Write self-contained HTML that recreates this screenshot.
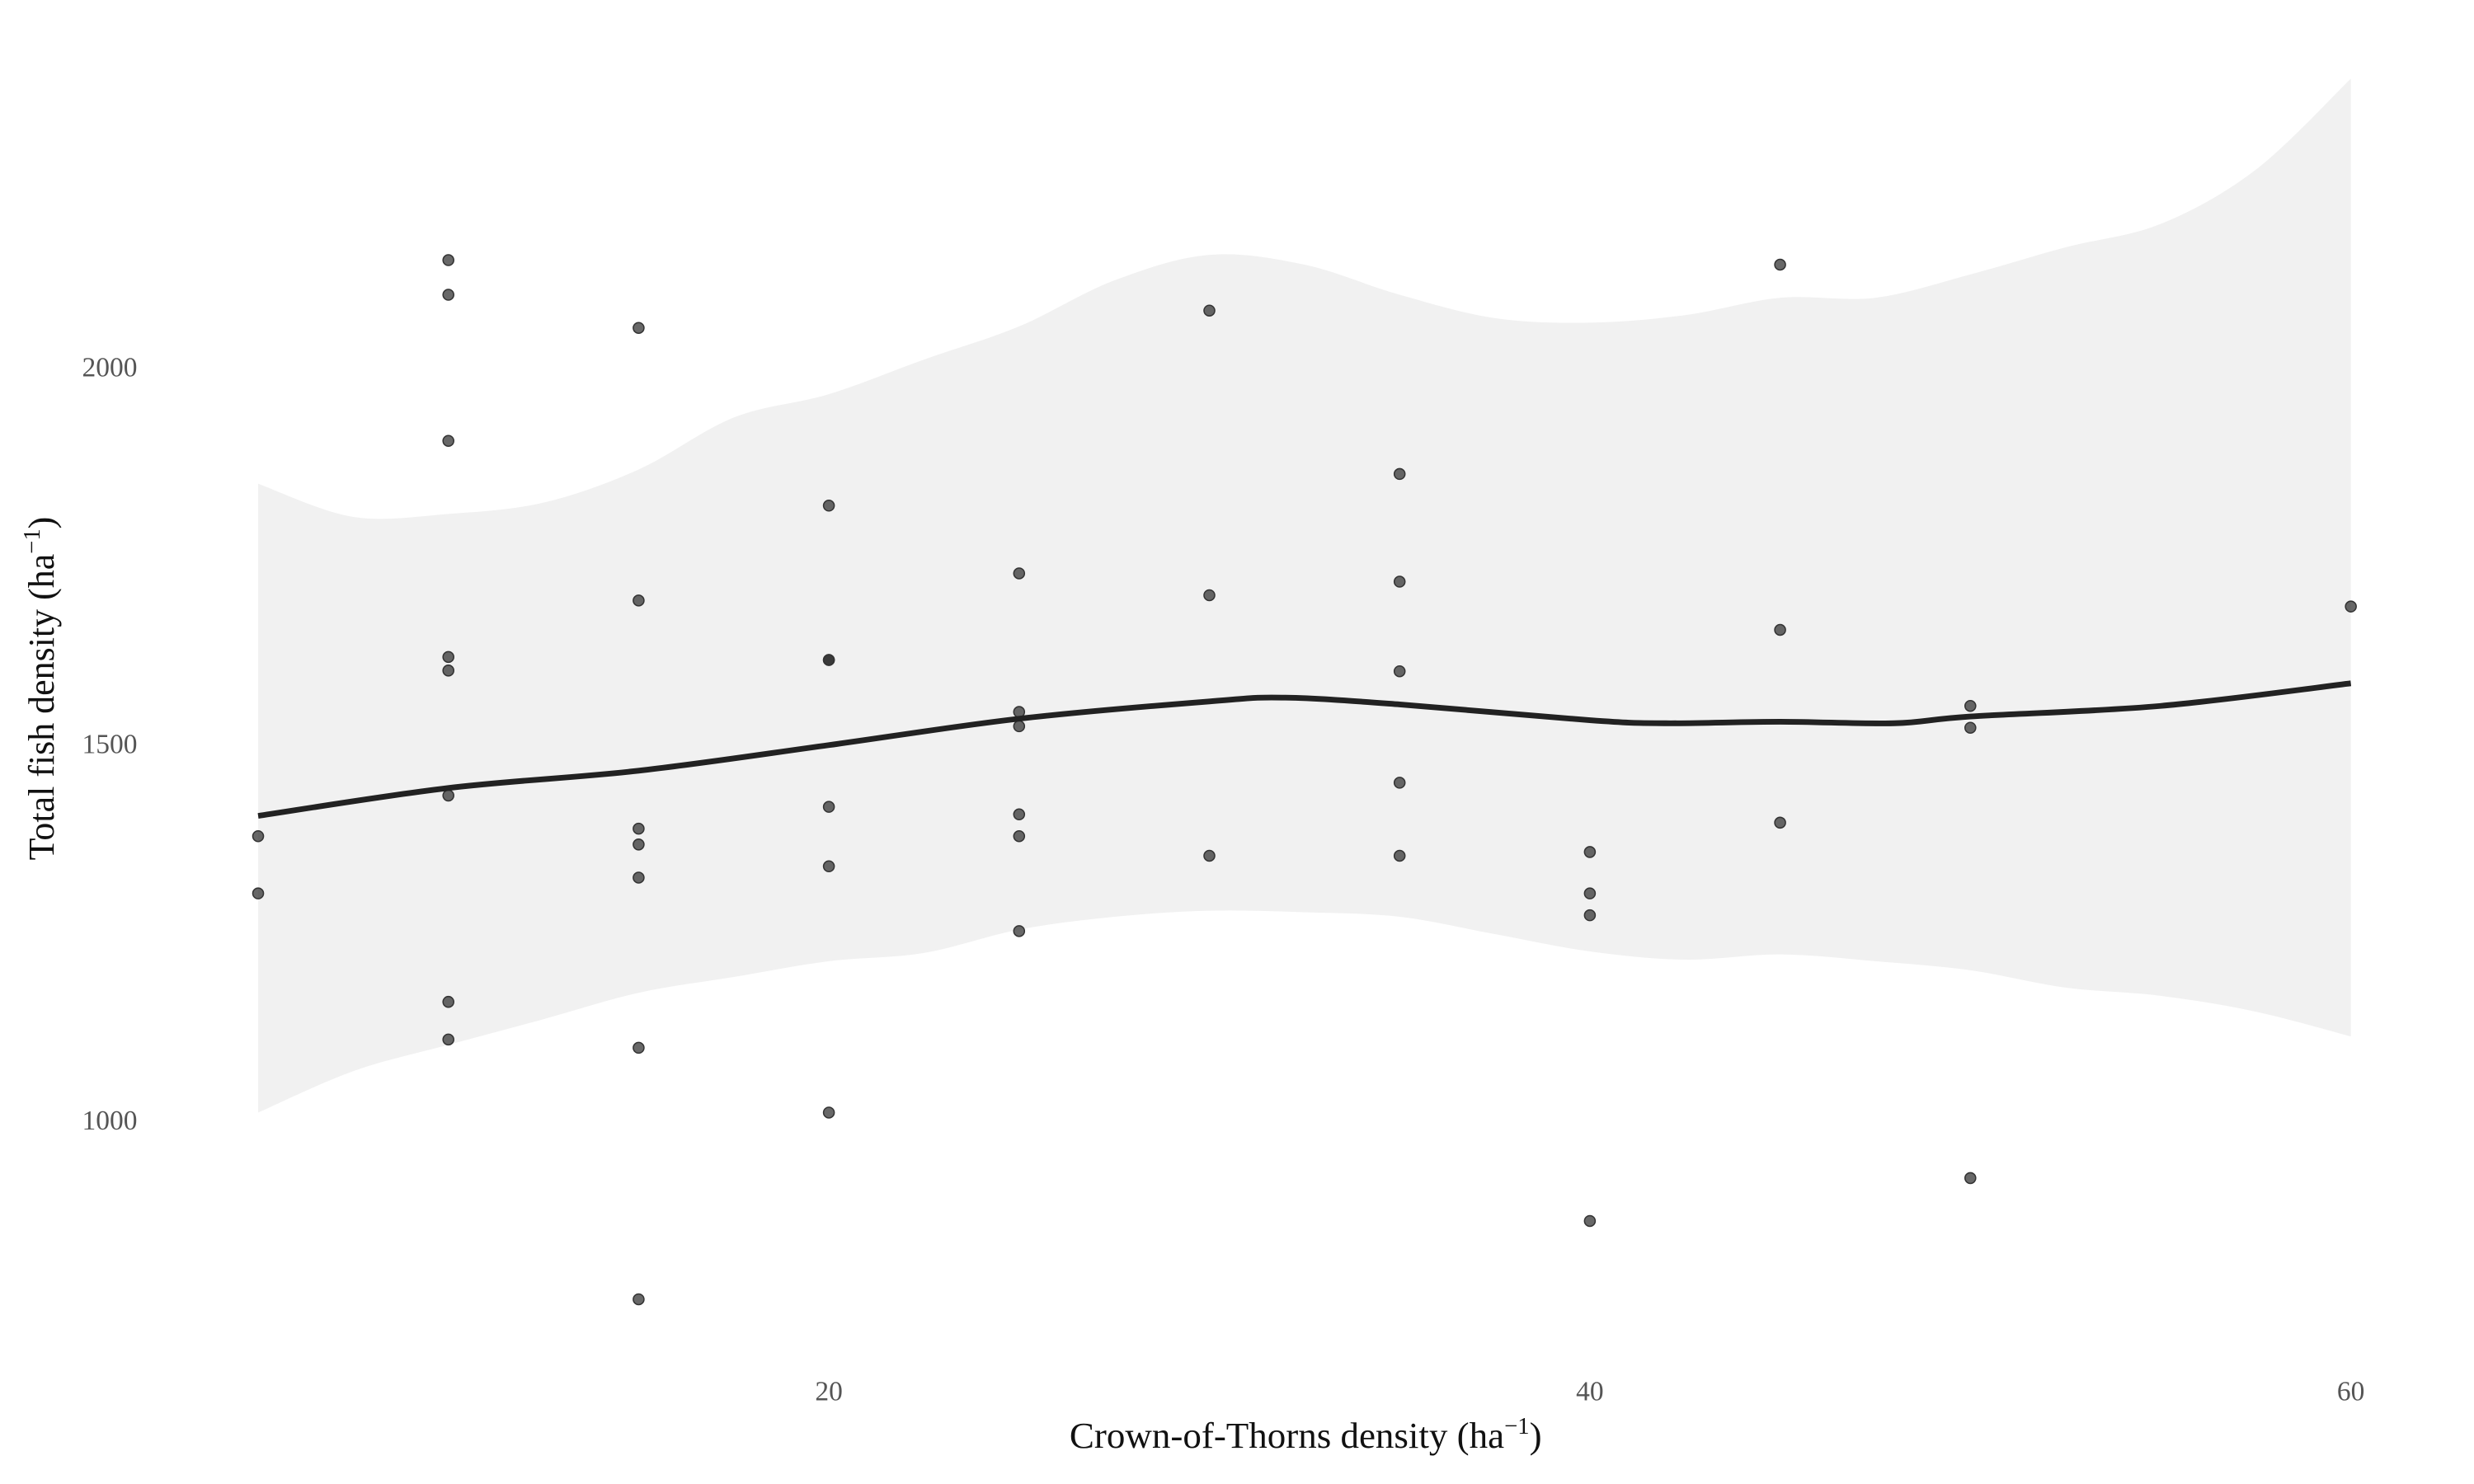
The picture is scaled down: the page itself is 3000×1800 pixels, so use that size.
<!DOCTYPE html>
<html><head><meta charset="utf-8"><style>
html,body{margin:0;padding:0;background:#fff;}
svg{display:block;}
text{font-family:"Liberation Serif",serif;}
</style></head><body>
<svg id="chart" width="3000" height="1800" viewBox="0 0 1567 942" preserveAspectRatio="none" xmlns="http://www.w3.org/2000/svg">
<g id="band"></g>
<g id="pts"></g>
<g id="line"></g>
<g id="axes"></g>
<text x="827" y="919" text-anchor="middle" font-size="23.5" fill="#111">Crown-of-Thorns density (ha<tspan dy="-9" font-size="15">−1</tspan><tspan dy="9">)</tspan></text>
<text transform="translate(34,437) rotate(-90)" text-anchor="middle" font-size="23" fill="#111">Total fish density (ha<tspan dy="-9" font-size="15">−1</tspan><tspan dy="9">)</tspan></text>
</svg>
<script>
const ptX = [5,5,10,10,10,10,10,10,10,10,15,15,15,15,15,15,15,20,20,20,20,20,20,25,25,25,25,25,25,30,30,30,35,35,35,35,35,40,40,40,40,45,45,45,50,50,50,60];
const ptY = [1377,1301,2142,2096,1902,1615,1597,1431,1157,1107,2052,1690,1387,1366,1322,1096,762,1816,1611,1611,1416,1337,1010,1726,1542,1523,1406,1377,1251,2075,1697,1351,1858,1715,1596,1448,1351,1356,1301,1272,866,2136,1651,1395,1550,1521,923,1682];
const fitX = [5,10,15,20,25,30,32,35,40,42,45,48,50,55,60];
const fitY = [1404,1441,1464,1498,1533,1556,1561,1552,1531,1527,1529,1527,1536,1550,1580];
const bandX = [5,7.5,10,12.5,15,17.5,20,22.5,25,27.5,30,32.5,35,37.5,40,42.5,45,47.5,50,52.5,55,57.5,60];
const bandUpper = [1845,1801,1805,1820,1864,1933,1964,2010,2054,2115,2149,2136,2096,2065,2059,2069,2092,2092,2123,2159,2190,2262,2383];
const bandLower = [1010,1065,1100,1134,1169,1190,1211,1222,1253,1270,1278,1276,1270,1247,1224,1213,1220,1211,1199,1176,1165,1144,1111];
const xTicks = [20,40,60];
const yTicks = [1000,1500,2000];

const NS="http://www.w3.org/2000/svg";
const sx = v => 525 + (v-20)*24.1;
const sy = v => 233 + (2000-v)*0.478;
function mk(tag, attrs, parent){const e=document.createElementNS(NS,tag);for(const k in attrs)e.setAttribute(k,attrs[k]);parent.appendChild(e);return e;}
function smooth(pts){
  let s='M'+pts[0][0]+','+pts[0][1];
  for(let i=0;i<pts.length-1;i++){
    const p0=pts[Math.max(0,i-1)],p1=pts[i],p2=pts[i+1],p3=pts[Math.min(pts.length-1,i+2)];
    const c1=[p1[0]+(p2[0]-p0[0])/6,p1[1]+(p2[1]-p0[1])/6];
    const c2=[p2[0]-(p3[0]-p1[0])/6,p2[1]-(p3[1]-p1[1])/6];
    s+='C'+c1[0]+','+c1[1]+' '+c2[0]+','+c2[1]+' '+p2[0]+','+p2[1];
  }
  return s;
}

const up = bandX.map((x,i)=>[sx(x),sy(bandUpper[i])]);
const lo = bandX.map((x,i)=>[sx(x),sy(bandLower[i])]).reverse();
const d = smooth(up)+'L'+smooth(lo).slice(1)+'Z';
const bp = mk('path',{d:d,fill:'#f1f1f1'},document.getElementById('band'));



const pg=document.getElementById('pts');
ptX.forEach((x,i)=>{
  const c=mk('circle',{cx:sx(x),cy:sy(ptY[i]),r:3.4,fill:'rgba(40,40,40,0.7)',stroke:'#333','stroke-width':0.8},pg);
  
  
});

const lp=mk('path',{d:smooth(fitX.map((x,i)=>[sx(x),sy(fitY[i])])),fill:'none',stroke:'#222','stroke-width':3.6,'stroke-linejoin':'round'},document.getElementById('line'));



const ax=document.getElementById('axes');
xTicks.forEach(t=>{
  const e=mk('text',{x:sx(t),y:889,'text-anchor':'middle','font-size':17.5,fill:'#555'},ax);
  e.textContent=t;
  
  
});
yTicks.forEach(t=>{
  const e=mk('text',{x:87,y:sy(t)+6,'text-anchor':'end','font-size':17.5,fill:'#555'},ax);
  e.textContent=t;
  
  
});
</script>
</body></html>
